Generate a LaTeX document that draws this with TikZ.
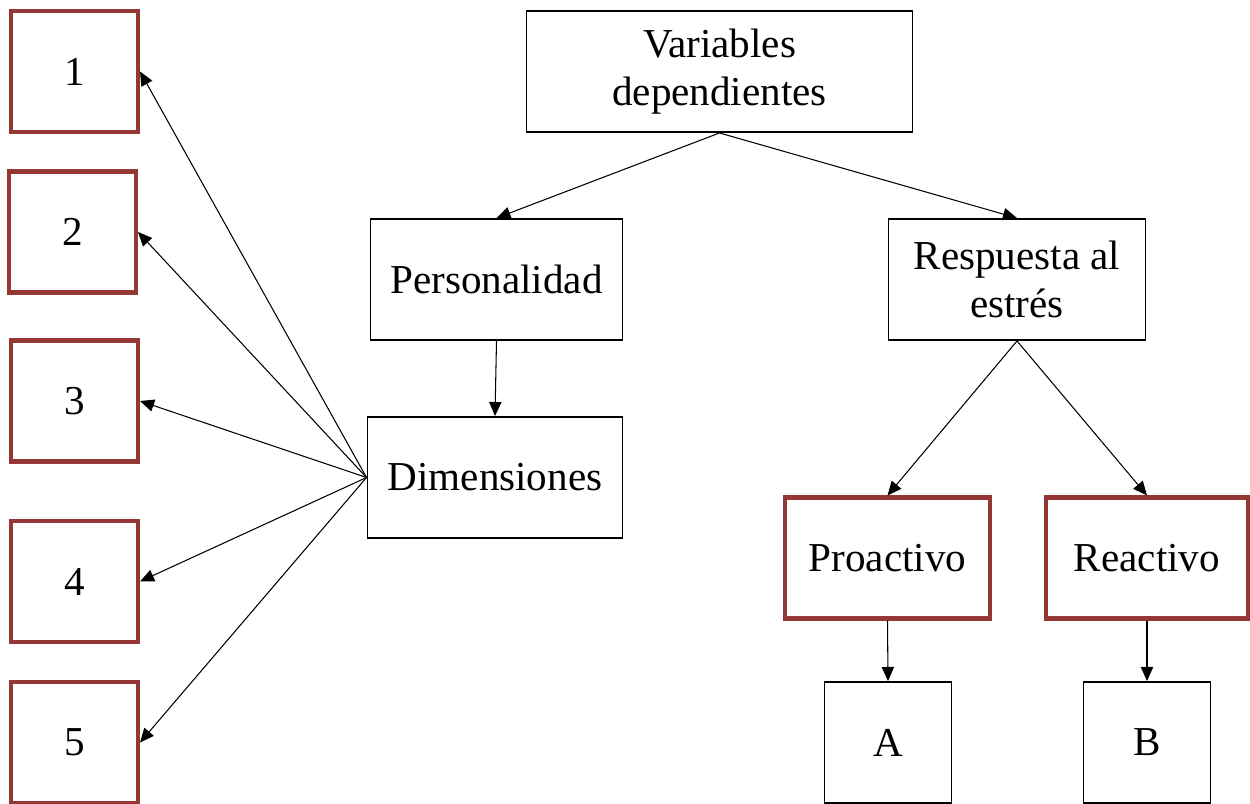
\documentclass[tikz,border=0pt]{standalone}
\usepackage{fontspec}
\setmainfont{Liberation Serif}
\usepackage{tikz}
\usetikzlibrary{arrows.meta}
\definecolor{boxRed}{RGB}{149, 55, 53}

\begin{document}
\begin{tikzpicture}[x=0.02cm, y=-0.02cm,
    font=\fontsize{23.4}{27.5}\selectfont,
    plainbox/.style={draw=black, line width=1.1pt, align=center, inner sep=0pt, minimum height=121*0.02cm},
    redbox/.style={draw=boxRed, line width=2.3pt, align=center, inner sep=0pt, minimum height=121*0.02cm},
    link/.style={line width=0.6pt, -{Triangle[length=8pt, width=7pt]}}]
        \useasboundingbox (0,0) rectangle (1250,804);
        % left column
        \node[redbox, minimum width=127*0.02cm] (d1) at (74.5,71.5) {1};
        \node[redbox, minimum width=127*0.02cm] (d2) at (72.5,232) {2};
        \node[redbox, minimum width=127*0.02cm] (d3) at (74.5,401) {3};
        \node[redbox, minimum width=127*0.02cm] (d4) at (74.5,581.5) {4};
        \node[redbox, minimum width=127*0.02cm] (d5) at (74.5,742.5) {5};
        % tree
        \node[plainbox, minimum width=386*0.02cm] (var) at (719.5,71.5) {Variables\\dependientes};
        \node[plainbox, minimum width=252*0.02cm] (pers) at (496.5,279.5) {Personalidad};
        \node[plainbox, minimum width=257*0.02cm] (resp) at (1017,279.5) {Respuesta al\\estrés};
        \node[plainbox, minimum width=255*0.02cm] (dim) at (495,477.5) {Dimensiones};
        \node[redbox, minimum width=205*0.02cm] (pro) at (887.5,558) {Proactivo};
        \node[redbox, minimum width=202*0.02cm] (rea) at (1147,558) {Reactivo};
        \node[plainbox, minimum width=127*0.02cm] (a) at (888,742.5) {A};
        \node[plainbox, minimum width=127*0.02cm] (b) at (1147,742.5) {B};
        % connectors
        \draw[link] (var.south) -- (pers.north);
        \draw[link] (var.south) -- (resp.north);
        \draw[link] (pers.south) -- (dim.north);
        \draw[link] (resp.south) -- (pro.north);
        \draw[link] (resp.south) -- (rea.north);
        \draw[link] (pro.south) -- (a.north);
        \draw[link] (rea.south) -- (b.north);
        \foreach \k in {1,...,5}
          \draw[link] (dim.west) -- (d\k.east);
\end{tikzpicture}
\end{document}
